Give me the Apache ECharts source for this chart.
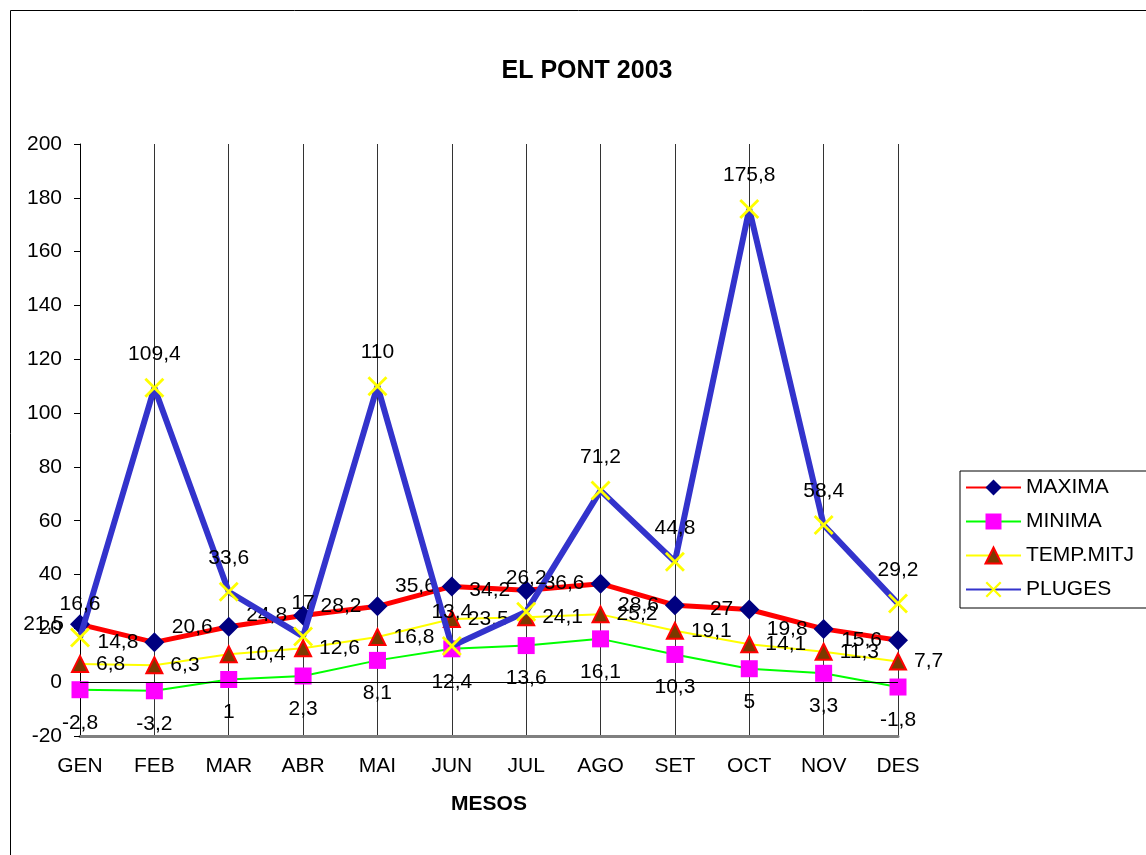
<!DOCTYPE html>
<html>
<head>
<meta charset="utf-8">
<script src="https://cdn.jsdelivr.net/npm/echarts@6/dist/echarts.min.js"></script>
<style>
html, body { margin: 0; padding: 0; background: #fff; }
#chart { width: 1146px; height: 855px; }
</style>
</head>
<body>
<div id="chart"></div>
<script>
var months = ['GEN', 'FEB', 'MAR', 'ABR', 'MAI', 'JUN', 'JUL', 'AGO', 'SET', 'OCT', 'NOV', 'DES'];
var maxima = [21.5, 14.8, 20.6, 24.8, 28.2, 35.6, 34.2, 36.6, 28.6, 27, 19.8, 15.6];
var minima = [-2.8, -3.2, 1, 2.3, 8.1, 12.4, 13.6, 16.1, 10.3, 5, 3.3, -1.8];
var tempMitj = [6.8, 6.3, 10.4, 12.6, 16.8, 23.5, 24.1, 25.2, 19.1, 14.1, 11.3, 7.7];
var pluges = [16.6, 109.4, 33.6, 17, 110, 13.4, 26.2, 71.2, 44.8, 175.8, 58.4, 29.2];

var FONT = 'Liberation Sans, Arial, sans-serif';
var crossPath = 'path://M0,1L1,0L5,4L9,0L10,1L6,5L10,9L9,10L5,6L1,10L0,9L4,5Z';

function coma(p) {
	return String(p.value).replace('.', ',');
}
function lbl(pos, dist) {
	return {
		show: true,
		position: pos,
		distance: dist,
		formatter: coma,
		color: '#000',
		fontSize: 21,
		fontFamily: FONT
	};
}

var chart = echarts.init(document.getElementById('chart'));
var option = {
	backgroundColor: '#fff',
	animation: false,
	title: {
		text: 'EL PONT 2003',
		left: 582,
		top: 54,
		textAlign: 'center',
		textStyle: { fontSize: 25, fontWeight: 'bold', fontFamily: FONT, color: '#000' }
	},
	graphic: [{
		type: 'rect',
		shape: { x: 10.5, y: 10.5, width: 1200, height: 900 },
		style: { fill: 'none', stroke: '#000', lineWidth: 1 },
		silent: true
	}],
	legend: {
		orient: 'vertical',
		left: 960,
		top: 471,
		width: 200,
		padding: [6, 40, 8, 5],
		itemWidth: 55,
		itemHeight: 20,
		itemGap: 13,
		borderColor: '#000',
		borderWidth: 1,
		textStyle: { fontSize: 21, fontFamily: FONT, color: '#000' },
		data: ['MAXIMA', 'MINIMA', 'TEMP.MITJ', 'PLUGES']
	},
	grid: {
		left: 80,
		right: 248,
		top: 144,
		bottom: 119
	},
	xAxis: {
		type: 'category',
		boundaryGap: false,
		data: months,
		name: 'MESOS',
		nameLocation: 'middle',
		nameGap: 58,
		nameTextStyle: { fontSize: 21, fontWeight: 'bold', fontFamily: FONT, color: '#000' },
		axisLine: { onZero: false, lineStyle: { color: '#808080', width: 3 } },
		axisTick: { show: false },
		axisLabel: { margin: 20, fontSize: 21, fontFamily: FONT, color: '#000' },
		splitLine: { show: true, lineStyle: { color: '#333', width: 1 } }
	},
	yAxis: {
		type: 'value',
		min: -20,
		max: 200,
		interval: 20,
		axisLine: { show: true, lineStyle: { color: '#000', width: 1 } },
		axisTick: { show: true, length: 6, lineStyle: { color: '#000' } },
		axisLabel: { margin: 18, fontSize: 21, fontFamily: FONT, color: '#000' },
		splitLine: { show: false }
	},
	series: [{
		name: 'MAXIMA',
		type: 'line',
		data: maxima,
		symbol: 'diamond',
		symbolSize: 20,
		lineStyle: { color: '#ff0000', width: 5 },
		itemStyle: { color: '#000080' },
		label: lbl('left', 6),
		markLine: {
			silent: true,
			symbol: 'none',
			label: { show: false },
			lineStyle: { color: '#000', width: 1, type: 'solid' },
			data: [{ yAxis: 0 }]
		},
		z: 3
	}, {
		name: 'MINIMA',
		type: 'line',
		data: minima,
		symbol: 'rect',
		symbolSize: 17,
		lineStyle: { color: '#00ff00', width: 2 },
		itemStyle: { color: '#ff00ff' },
		label: lbl('bottom', 14),
		z: 3
	}, {
		name: 'TEMP.MITJ',
		type: 'line',
		data: tempMitj,
		symbol: 'triangle',
		symbolSize: 16,
		lineStyle: { color: '#ffff00', width: 2 },
		itemStyle: { color: '#7a3a00', borderColor: '#ff0000', borderWidth: 2 },
		label: lbl('right', 7),
		z: 3
	}, {
		name: 'PLUGES',
		type: 'line',
		data: pluges,
		symbol: crossPath,
		symbolSize: 20,
		lineStyle: { color: '#3333cc', width: 6 },
		itemStyle: { color: '#ffff00' },
		label: lbl('top', 13),
		z: 4
	}]
};
chart.setOption(option);
</script>
</body>
</html>
